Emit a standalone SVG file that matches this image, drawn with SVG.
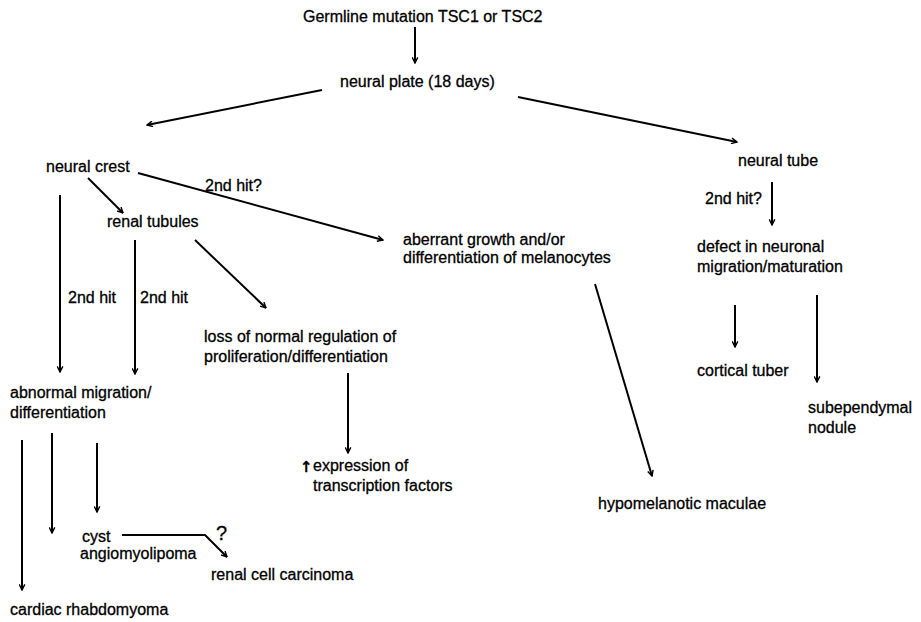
<svg xmlns="http://www.w3.org/2000/svg" width="921" height="622" viewBox="0 0 921 622">
<style>
  text { font-family: "Liberation Sans", Arial, sans-serif; font-size: 16px; fill: #000; stroke: #000; stroke-width: 0.3; }
  .up { font-family: "DejaVu Sans", sans-serif; font-size: 15px; font-weight: bold; }
  .c line, .c polyline { stroke: #000; stroke-width: 2; fill: none; marker-end: url(#ah); }
</style>
<defs>
  <marker id="ah" viewBox="0 0 10 10" refX="9" refY="5" markerWidth="7" markerHeight="7" markerUnits="userSpaceOnUse" orient="auto">
    <path d="M1,1 L9,5 L1,9" fill="none" stroke="#000" stroke-width="2"/>
  </marker>
</defs>
<rect width="921" height="622" fill="#fff"/>
<g id="germline"><text x="303" y="22">Germline mutation TSC1 or TSC2</text></g>
<g id="neural-plate"><text x="340" y="87">neural plate (18 days)</text></g>
<g id="neural-tube"><text x="738" y="166">neural tube</text></g>
<g id="neural-crest"><text x="46" y="172">neural crest</text></g>
<g id="renal-tubules"><text x="107" y="227">renal tubules</text></g>
<g id="aberrant"><text x="403" y="245">aberrant growth and/or</text><text x="403" y="263">differentiation of melanocytes</text></g>
<g id="defect"><text x="697" y="252">defect in neuronal</text><text x="697" y="272">migration/maturation</text></g>
<g id="loss"><text x="204" y="342">loss of normal regulation of</text><text x="204" y="362">proliferation/differentiation</text></g>
<g id="cortical-tuber"><text x="697" y="376">cortical tuber</text></g>
<g id="abnormal"><text x="10" y="398">abnormal migration/</text><text x="10" y="418">differentiation</text></g>
<g id="subependymal"><text x="808" y="413">subependymal</text><text x="808" y="433">nodule</text></g>
<g id="expression"><text x="300" y="472"><tspan class="up">↑</tspan><tspan x="313" y="471">expression of</tspan></text><text x="313" y="491">transcription factors</text></g>
<g id="hypomelanotic"><text x="598" y="509">hypomelanotic maculae</text></g>
<g id="cyst"><text x="82" y="542">cyst</text><text x="80" y="559">angiomyolipoma</text></g>
<g id="rcc"><text x="211" y="580">renal cell carcinoma</text></g>
<g id="cardiac"><text x="10" y="615">cardiac rhabdomyoma</text></g>
<g id="connectors" class="c">
  <line x1="415" y1="27" x2="415" y2="63"/>
  <line x1="322" y1="90" x2="147" y2="125"/>
  <line x1="518" y1="97" x2="737" y2="142"/>
  <line x1="772" y1="182" x2="772" y2="225"/>
  <line x1="138" y1="173" x2="383" y2="240"/>
  <line x1="88" y1="178" x2="123" y2="213"/>
  <line x1="60" y1="195" x2="60" y2="372"/>
  <line x1="135" y1="240" x2="135" y2="374"/>
  <line x1="195" y1="240" x2="266" y2="308"/>
  <line x1="348" y1="373" x2="348" y2="453"/>
  <line x1="595" y1="284" x2="652" y2="476"/>
  <line x1="735" y1="305" x2="735" y2="347"/>
  <line x1="817" y1="295" x2="817" y2="382"/>
  <line x1="22" y1="440" x2="22" y2="590"/>
  <line x1="52" y1="433" x2="52" y2="533"/>
  <line x1="97" y1="443" x2="97" y2="512"/>
  <polyline points="122,535 205,535 227,557"/>
</g>
<g id="labels">
  <text x="205" y="191">2nd hit?</text>
  <text x="705" y="204">2nd hit?</text>
  <text x="68" y="303">2nd hit</text>
  <text x="140" y="303">2nd hit</text>
  <text x="216" y="540" style="font-size:20px">?</text>
</g>
</svg>
